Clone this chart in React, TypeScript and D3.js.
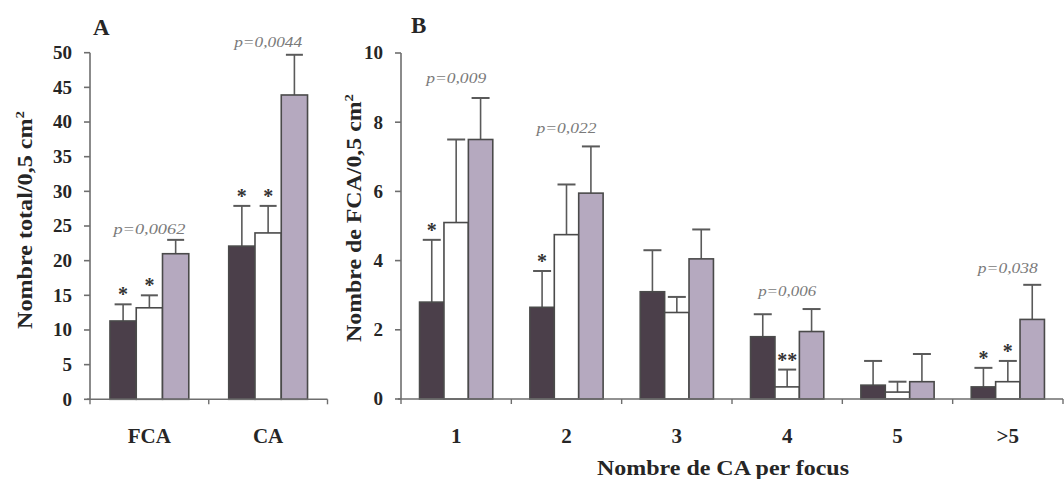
import React from "react";
import * as d3 from "d3";

// ---------- DATA ----------
const seriesKeys = ["s1", "s2", "s3"];

// Panel A
const catsA = ["FCA", "CA"];
const valuesA = [
  [11.3, 13.2, 21.0],
  [22.1, 24.0, 43.9],
];
const errorsA = [
  [13.7, 15.0, 23.0],
  [27.9, 27.9, 49.7],
];
const starsA = [
  ["*", "*", ""],
  ["*", "*", ""],
];
const ticksA = [0, 5, 10, 15, 20, 25, 30, 35, 40, 45, 50];
const pLabelsA = [
  { cat: "FCA", text: "p=0,0062", y: 24.4 },
  { cat: "CA", text: "p=0,0044", y: 51.4 },
];

// Panel B
const catsB = ["1", "2", "3", "4", "5", ">5"];
const valuesB = [
  [2.8, 5.1, 7.5],
  [2.65, 4.75, 5.95],
  [3.1, 2.5, 4.05],
  [1.8, 0.35, 1.95],
  [0.4, 0.2, 0.5],
  [0.35, 0.5, 2.3],
];
const errorsB = [
  [4.6, 7.5, 8.7],
  [3.7, 6.2, 7.3],
  [4.3, 2.95, 4.9],
  [2.45, 0.85, 2.6],
  [1.1, 0.5, 1.3],
  [0.9, 1.1, 3.3],
];
const starsB = [
  ["*", "", ""],
  ["*", "", ""],
  ["", "", ""],
  ["", "**", ""],
  ["", "", ""],
  ["*", "*", ""],
];
const ticksB = [0, 2, 4, 6, 8, 10];
const pLabelsB = [
  { cat: "1", text: "p=0,009", y: 9.25 },
  { cat: "2", text: "p=0,022", y: 7.8 },
  { cat: "4", text: "p=0,006", y: 3.1 },
  { cat: ">5", text: "p=0,038", y: 3.75 },
];

// ---------- STYLE ----------
const FILLS = ["#4b3f4a", "#ffffff", "#b5a9bf"];
const BAR_STROKE = "#4a4a4a";
const AXIS = "#6e6e6e";
const TEXT = "#262626";
const PCOL = "#7a7a7a";
const FONT = "Liberation Serif";

type PanelProps = {
  cats: string[];
  values: number[][];
  errors: number[][];
  stars: string[][];
  ticks: number[];
  pLabels: { cat: string; text: string; y: number }[];
  xRange: [number, number];
  yRange: [number, number];
  yMax: number;
  capW: number;
  pLen: number[];
};

const tStyle = { fontFamily: FONT };

function Panel(p: PanelProps) {
  const x0 = d3.scaleBand<string>().domain(p.cats).range(p.xRange).paddingInner(0).paddingOuter(0);
  const x1 = d3
    .scaleBand<string>()
    .domain(seriesKeys)
    .range([0, x0.bandwidth()])
    .paddingInner(0)
    .paddingOuter(0.76);
  const y = d3.scaleLinear().domain([0, p.yMax]).range(p.yRange);
  const axisX = p.xRange[0];
  const y0 = y(0);
  const boundaries = [...p.cats.map((c) => x0(c) as number), p.xRange[1]];
  return (
    <g>
      {p.cats.map((c, i) => (
        <g key={c} transform={`translate(${x0(c)},0)`}>
          {seriesKeys.map((s, j) => {
            const bx = x1(s) as number;
            const bw = x1.bandwidth();
            const v = p.values[i][j];
            const e = p.errors[i][j];
            const cx = bx + bw / 2;
            return (
              <g key={s}>
                <line x1={cx} x2={cx} y1={y(v)} y2={y(e)} stroke="#5a5a5a" strokeWidth={1.6} />
                <line x1={cx - p.capW / 2} x2={cx + p.capW / 2} y1={y(e)} y2={y(e)} stroke="#5a5a5a" strokeWidth={2} />
                <rect x={bx} y={y(v)} width={bw} height={y0 - y(v)} fill={FILLS[j]} stroke={BAR_STROKE} strokeWidth={1.6} />
                {p.stars[i][j] ? (
                  <text x={cx} y={y(e) - 3} textAnchor="middle" style={tStyle} fontWeight="bold" fontSize={20} fill="#333">
                    {p.stars[i][j]}
                  </text>
                ) : null}
              </g>
            );
          })}
        </g>
      ))}
      <line x1={axisX} x2={axisX} y1={y0} y2={y(p.yMax)} stroke={AXIS} strokeWidth={1.6} />
      {p.ticks.map((t) => (
        <g key={t}>
          <line x1={axisX - 6} x2={axisX} y1={y(t)} y2={y(t)} stroke={AXIS} strokeWidth={1.6} />
          <text x={axisX - 18} y={y(t)} dy="0.34em" textAnchor="end" style={tStyle} fontWeight="bold" fontSize={19} fill={TEXT}>
            {t}
          </text>
        </g>
      ))}
      <line x1={axisX - 3} x2={p.xRange[1]} y1={y0} y2={y0} stroke={AXIS} strokeWidth={1.6} />
      {boundaries.map((b, k) => (
        <line key={k} x1={b} x2={b} y1={y0} y2={y0 + 5} stroke={AXIS} strokeWidth={1.4} />
      ))}
      {p.cats.map((c) => (
        <text key={c} x={(x0(c) as number) + x0.bandwidth() / 2} y={443} textAnchor="middle" style={tStyle} fontWeight="bold" fontSize={21} fill={TEXT}>
          {c}
        </text>
      ))}
      {p.pLabels.map((pl, k) => (
        <text
          key={k}
          x={(x0(pl.cat) as number) + x0.bandwidth() / 2}
          y={y(pl.y)}
          dy="0.3em"
          textAnchor="middle"
          style={tStyle}
          fontStyle="italic"
          fontSize={14}
          fill={PCOL}
          textLength={p.pLen[k]}
          lengthAdjust="spacingAndGlyphs"
        >
          {pl.text}
        </text>
      ))}
    </g>
  );
}

export default function App() {
  return (
    <svg
      width={1064}
      height={479}
      style={{ position: "absolute", left: 0, top: 0, background: "#fff" }}
      xmlns="http://www.w3.org/2000/svg"
    >
      <rect x={0} y={0} width={1064} height={479} fill="#fff" />
      <text x={93} y={35} style={tStyle} fontWeight="bold" fontSize={23} fill={TEXT}>
        A
      </text>
      <text x={411} y={33} style={tStyle} fontWeight="bold" fontSize={23} fill={TEXT}>
        B
      </text>
      <Panel
        cats={catsA}
        values={valuesA}
        errors={errorsA}
        stars={starsA}
        ticks={ticksA}
        pLabels={pLabelsA}
        xRange={[90, 327.5]}
        yRange={[399.3, 52.7]}
        yMax={50}
        capW={17}
        pLen={[72, 68]}
      />
      <Panel
        cats={catsB}
        values={valuesB}
        errors={errorsB}
        stars={starsB}
        ticks={ticksB}
        pLabels={pLabelsB}
        xRange={[401, 1063]}
        yRange={[399, 53]}
        yMax={10}
        capW={18}
        pLen={[60, 60, 58, 60]}
      />
      <text
        transform="translate(32,220) rotate(-90)"
        textAnchor="middle"
        style={tStyle}
        fontWeight="bold"
        fontSize={21}
        fill={TEXT}
        textLength={218}
        lengthAdjust="spacingAndGlyphs"
      >
        Nombre total/0,5 cm<tspan dy="-8" fontSize={13}>2</tspan>
      </text>
      <text
        transform="translate(361,218) rotate(-90)"
        textAnchor="middle"
        style={tStyle}
        fontWeight="bold"
        fontSize={21}
        fill={TEXT}
        textLength={248}
        lengthAdjust="spacingAndGlyphs"
      >
        Nombre de FCA/0,5 cm<tspan dy="-8" fontSize={13}>2</tspan>
      </text>
      <text
        x={723}
        y={475}
        textAnchor="middle"
        style={tStyle}
        fontWeight="bold"
        fontSize={22}
        fill={TEXT}
        textLength={252}
        lengthAdjust="spacingAndGlyphs"
      >
        Nombre de CA per focus
      </text>
    </svg>
  );
}
